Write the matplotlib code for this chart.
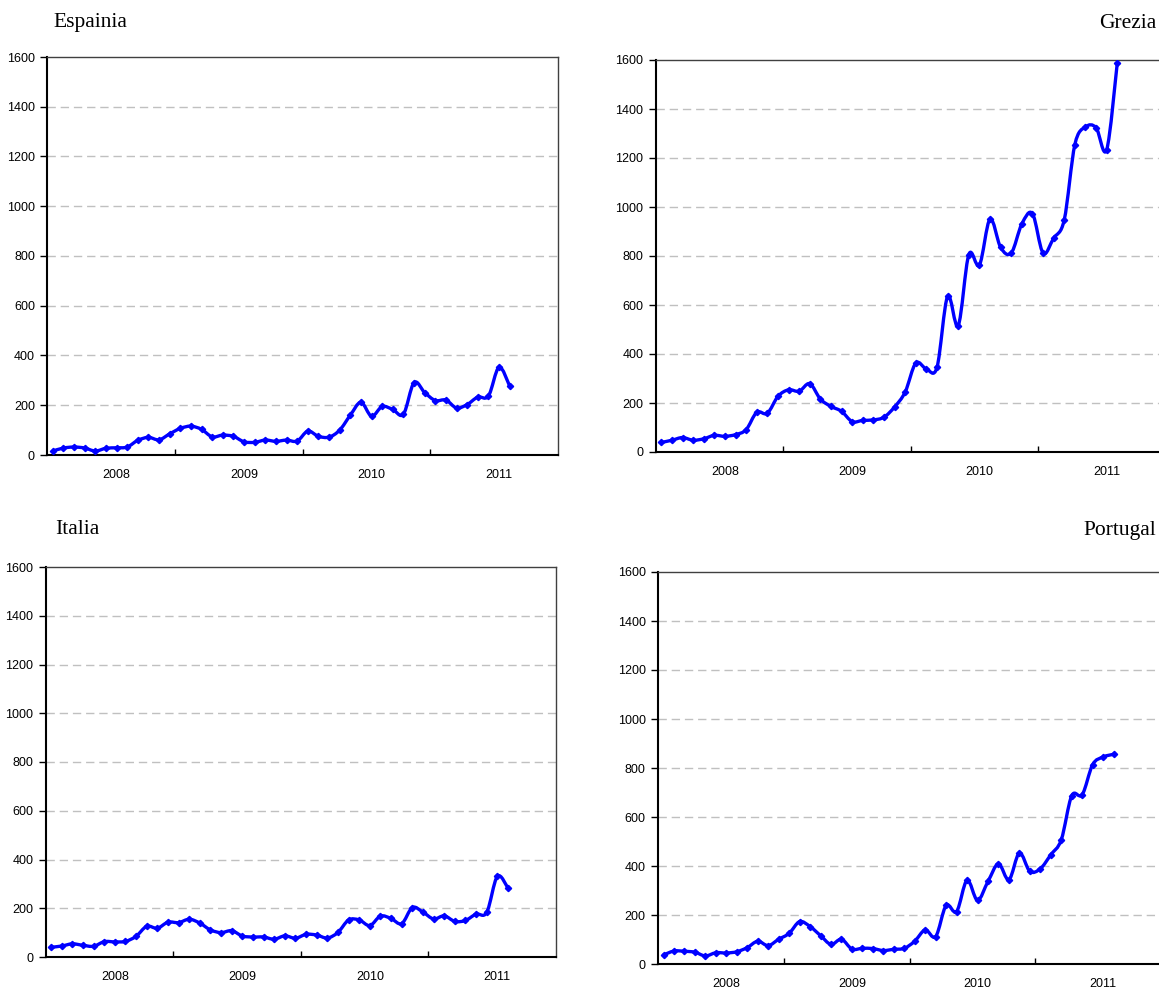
import numpy as np
import matplotlib
matplotlib.use("Agg")
import matplotlib.pyplot as plt
from matplotlib.path import Path
from matplotlib.patches import PathPatch

# ---- data (monthly, Jan 2008 - Aug 2011) ----
years = ["2008", "2009", "2010", "2011"]
yticks = [0, 200, 400, 600, 800, 1000, 1200, 1400, 1600]

espainia = [16, 28, 32, 28, 16, 27, 29, 32, 59, 71, 61, 85,
            107, 116, 103, 73, 80, 75, 53, 51, 60, 55, 60, 56,
            96, 75, 72, 100, 160, 212, 156, 195, 183, 164, 291, 251,
            219, 221, 189, 203, 233, 237, 353, 277]

grezia = [39, 48, 59, 48, 54, 68, 64, 71, 91, 162, 158, 227,
          254, 248, 279, 216, 186, 166, 124, 129, 131, 142, 184, 245,
          363, 339, 346, 636, 516, 806, 763, 951, 835, 812, 931, 973,
          812, 873, 948, 1255, 1327, 1324, 1234, 1588]

italia = [40, 45, 54, 48, 44, 63, 62, 64, 85, 126, 118, 143,
          141, 155, 139, 111, 100, 108, 86, 82, 82, 73, 87, 77,
          93, 90, 78, 101, 152, 152, 129, 168, 158, 137, 203, 184,
          156, 169, 146, 150, 176, 183, 331, 283]

portugal = [37, 53, 52, 48, 33, 46, 45, 50, 67, 93, 75, 101,
            125, 173, 153, 116, 80, 101, 61, 64, 63, 55, 60, 64,
            93, 139, 112, 239, 214, 342, 260, 337, 409, 344, 453, 378,
            389, 446, 507, 687, 691, 814, 845, 856]

W, H = 1159, 988
fig = plt.figure(figsize=(W / 100, H / 100), dpi=100)

BLUE = "#0000FF"
TICKFONT = dict(family=["Liberation Sans", "DejaVu Sans"], size=9)
TITLEFONT = dict(family=["Liberation Serif", "DejaVu Serif"], size=15.5)


def smooth_path(xs, ys):
    pts = np.column_stack([xs, ys]).astype(float)
    n = len(pts)
    verts = [pts[0]]
    codes = [Path.MOVETO]
    for i in range(n - 1):
        p0 = pts[i - 1] if i > 0 else pts[i]
        p1 = pts[i]
        p2 = pts[i + 1]
        p3 = pts[i + 2] if i + 2 < n else pts[i + 1]
        c1 = p1 + (p2 - p0) / 6.0
        c2 = p2 - (p3 - p1) / 6.0
        verts += [c1, c2, p2]
        codes += [Path.CURVE4] * 3
    return Path(verts, codes)


def panel(box, values, title, title_side):
    l, t, r, b = box
    ax = fig.add_axes([l / W, 1 - b / H, (r - l) / W, (b - t) / H])
    x = np.arange(len(values))
    ax.set_xlim(-0.5, 47.5)
    ax.set_ylim(0, 1600)
    patch = PathPatch(smooth_path(x, values), fill=False, edgecolor=BLUE,
                      lw=2.4, transform=ax.transData, zorder=3,
                      capstyle="round", joinstyle="round")
    ax.add_patch(patch)
    ax.plot(x, values, linestyle="none", marker="D", markersize=3.2,
            color=BLUE, zorder=4)

    ax.set_yticks(yticks)
    ax.set_yticklabels([str(v) for v in yticks], **TICKFONT)
    ax.tick_params(axis="y", direction="out", length=5, width=1,
                   pad=4, colors="black")

    ax.set_xticks([11.5, 23.5, 35.5])
    ax.set_xticklabels([])
    ax.set_xticks([6, 18, 30, 42], minor=True)
    ax.set_xticklabels(years, minor=True, **TICKFONT)
    ax.tick_params(axis="x", which="major", direction="in", length=4,
                   width=1)
    ax.tick_params(axis="x", which="minor", length=0, pad=10)

    for v in yticks[1:-1]:
        ax.axhline(v, color="#c0c0c0", lw=1.0, dashes=(6, 3.5), zorder=1)

    for s in ["left", "bottom"]:
        ax.spines[s].set_color("black")
        ax.spines[s].set_linewidth(1.5)
    for s in ["top", "right"]:
        ax.spines[s].set_color("#404040")
        ax.spines[s].set_linewidth(1.0)

    fig.text(title[1] / W, 1 - title[2] / H, title[0], ha=title_side,
             va="center", **TITLEFONT)
    return ax


panel((47.5, 57, 557.5, 455), espainia, ("Espainia", 53, 23), "left")
panel((656, 60, 1165, 452), grezia, ("Grezia", 1156, 23), "right")
panel((45.8, 567, 555.8, 957), italia, ("Italia", 55, 530), "left")
panel((658.3, 572, 1160.7, 964), portugal, ("Portugal", 1156, 530), "right")

fig.savefig("out.png", dpi=100)
